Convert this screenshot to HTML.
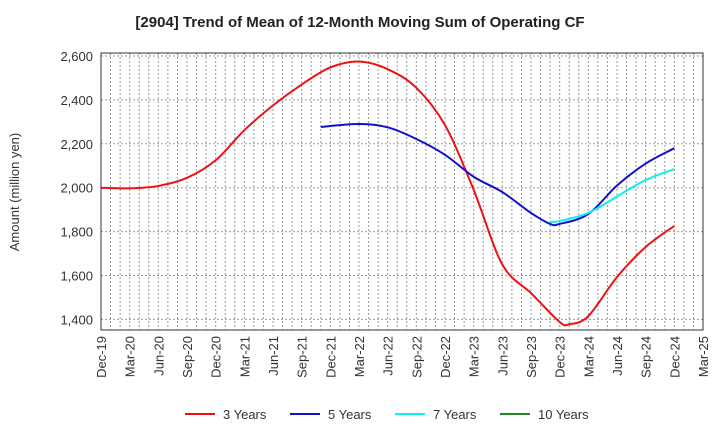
<!DOCTYPE html>
<html><head><meta charset="utf-8"><style>
body{margin:0;background:#fff;font-family:"Liberation Sans",Arial,sans-serif}
svg text{font-family:"Liberation Sans",Arial,sans-serif}
</style></head><body>
<svg id="c" width="720" height="440" xmlns="http://www.w3.org/2000/svg">
<text x="360" y="27" text-anchor="middle" font-size="15" font-weight="bold" fill="#222">[2904]  Trend of Mean of 12-Month Moving Sum of Operating CF</text>
<text transform="translate(19,192) rotate(-90)" text-anchor="middle" font-size="13" fill="#333">Amount (million yen)</text>
<g id="grid"></g><g id="series"></g><g id="axes"></g>
<g id="legend"></g>
</svg>
<script>
const xLabels=["Dec-19","Mar-20","Jun-20","Sep-20","Dec-20","Mar-21","Jun-21","Sep-21","Dec-21","Mar-22","Jun-22","Sep-22","Dec-22","Mar-23","Jun-23","Sep-23","Dec-23","Mar-24","Jun-24","Sep-24","Dec-24","Mar-25"];
const yTicks=[1400,1600,1800,2000,2200,2400,2600];
const months3=[0,3,6,9,12,15,18,21,24,27,30,33,36,39,42,45,48,49,51,54,57,60];
const vals3=[2000,1997,2008,2045,2125,2262,2375,2470,2548,2575,2540,2455,2285,1990,1650,1520,1388,1378,1415,1593,1730,1826];
const months5=[23,27,30,33,36,39,42,45,47,48,51,54,57,60];
const vals5=[2277,2290,2275,2222,2150,2050,1980,1885,1835,1835,1880,2010,2110,2180];
const months7=[47,48,51,54,57,60];
const vals7=[1845,1848,1885,1960,2035,2085];
const months10=[];const vals10=[];
const L=101,R=703,T=53,B=330;
const xs=m=>L+m*(R-L)/63;
const ys=v=>56+(2600-v)*0.2195;
const NS="http://www.w3.org/2000/svg";
function mk(t,a,p){const e=document.createElementNS(NS,t);for(const k in a)e.setAttribute(k,a[k]);p.appendChild(e);return e;}
const grid=document.getElementById('grid'),axes=document.getElementById('axes'),ser=document.getElementById('series'),leg=document.getElementById('legend');
for(let m=1;m<63;m++){const l=mk('line',{x1:xs(m),x2:xs(m),y1:T,y2:B,stroke:'#999','stroke-dasharray':'2,2','stroke-width':1},grid);

}
yTicks.forEach(v=>{const l=mk('line',{x1:L,x2:R,y1:ys(v),y2:ys(v),stroke:'#999','stroke-dasharray':'2,2'},grid);


const t=mk('text',{x:L-8,y:ys(v)+5,'text-anchor':'end','font-size':13,fill:'#333'},axes);t.textContent=v.toLocaleString('en-US');

});
const fr=mk('rect',{x:L,y:T,width:R-L,height:B-T,fill:'none',stroke:'#333','stroke-width':1},axes);


xLabels.forEach((s,i)=>{const x=xs(i*3);const t=mk('text',{transform:`translate(${x+5},${B+6}) rotate(-90)`,'text-anchor':'end','font-size':13,fill:'#333'},axes);t.textContent=s;

});
function path(ms,vs){const p=ms.map((m,i)=>[xs(m),ys(vs[i])]);if(!p.length)return'';let d=`M${p[0][0]},${p[0][1]}`;
for(let i=0;i<p.length-1;i++){const p0=p[i-1]||p[i],p1=p[i],p2=p[i+1],p3=p[i+2]||p2;
d+=` C${p1[0]+(p2[0]-p0[0])/6},${p1[1]+(p2[1]-p0[1])/6} ${p2[0]-(p3[0]-p1[0])/6},${p2[1]-(p3[1]-p1[1])/6} ${p2[0]},${p2[1]}`;}return d;}
const S=[["3 Years",months3,vals3,"#ee1111","series-3-years"],["5 Years",months5,vals5,"#1111cc","series-5-years"],["7 Years",months7,vals7,"#11eeee","series-7-years"],["10 Years",months10,vals10,"#228822","series-10-years"]];
S.forEach((s,i)=>{if(s[1].length){const p=mk('path',{d:path(s[1],s[2]),fill:'none',stroke:s[3],'stroke-width':2},ser);

}
const lx=185+i*105;const g=mk('g',{},leg);


mk('line',{x1:lx,x2:lx+30,y1:414,y2:414,stroke:s[3],'stroke-width':2},g);
const t=mk('text',{x:lx+38,y:419,'font-size':13,fill:'#333'},g);t.textContent=s[0];});
</script>
</body></html>
